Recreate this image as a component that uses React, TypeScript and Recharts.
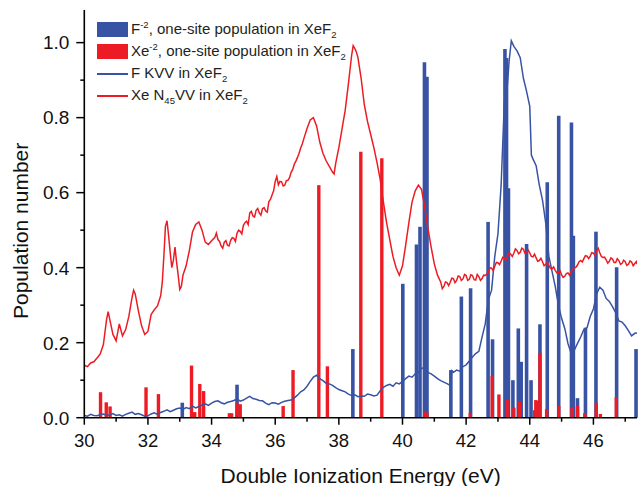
import React from "react";
import {
  ComposedChart,
  Line,
  XAxis,
  YAxis,
  ReferenceLine,
  Legend,
  Label,
} from "recharts";

const BLUE = "#3953a4";
const RED = "#ed1c24";
const FONT = "'Liberation Sans', Arial, sans-serif";

// F^-2 one-site population sticks: [energy eV, population]
const fSticks: [number, number][] = [
  [33.08, 0.04], [34.8, 0.088], [38.44, 0.183], [40.01, 0.357], [40.44, 0.462],
  [40.55, 0.509], [40.69, 0.948], [40.77, 0.909], [41.52, 0.127], [41.85, 0.323],
  [42.14, 0.345], [42.69, 0.522], [42.83, 0.209], [43.22, 0.983], [43.27, 0.959],
  [43.33, 0.612], [43.47, 0.1], [43.64, 0.238], [43.73, 0.149], [43.9, 0.463],
  [44.04, 0.1], [44.16, 0.02], [44.32, 0.249], [44.55, 0.628], [44.91, 0.805],
  [45.31, 0.787], [45.37, 0.485], [45.5, 0.052], [45.75, 0.24], [46.08, 0.496],
  [46.73, 0.401], [47.34, 0.183],
];

// Xe^-2 one-site population sticks
const xeSticks: [number, number][] = [
  [30.51, 0.068], [30.69, 0.041], [30.81, 0.03], [31.94, 0.081], [32.33, 0.063],
  [33.37, 0.139], [33.47, 0.015], [33.63, 0.09], [33.75, 0.071], [34.56, 0.012],
  [34.63, 0.012], [34.8, 0.04], [34.9, 0.036], [36.25, 0.031], [36.56, 0.127],
  [37.37, 0.62], [37.64, 0.137], [38.69, 0.709], [39.35, 0.692], [40.7, 0.015],
  [40.77, 0.013], [42.13, 0.013], [42.82, 0.111], [43.03, 0.062], [43.29, 0.048],
  [43.5, 0.027], [43.68, 0.043], [44.19, 0.047], [44.23, 0.045], [44.32, 0.173],
  [44.53, 0.023], [44.91, 0.031], [45.33, 0.027], [45.5, 0.031], [45.73, 0.012],
  [46.09, 0.04], [46.22, 0.01], [46.72, 0.055],
];

// F KVV spectrum
const fKvv: [number, number][] = [
  [30.0, 0.006], [30.1, 0.004], [30.2, 0.009], [30.3, 0.006], [30.4, 0.005],
  [30.5, 0.008], [30.6, 0.01], [30.7, 0.006], [30.8, 0.007], [30.9, 0.011],
  [31.0, 0.006], [31.1, 0.008], [31.2, 0.004], [31.3, 0.009], [31.4, 0.012],
  [31.5, 0.015], [31.6, 0.009], [31.7, 0.011], [31.8, 0.008], [31.9, 0.004],
  [32.0, 0.005], [32.1, 0.01], [32.2, 0.013], [32.3, 0.009], [32.4, 0.014],
  [32.5, 0.017], [32.6, 0.021], [32.7, 0.016], [32.8, 0.02], [32.9, 0.024],
  [33.0, 0.026], [33.1, 0.022], [33.2, 0.027], [33.3, 0.024], [33.4, 0.031],
  [33.5, 0.026], [33.6, 0.03], [33.7, 0.034], [33.8, 0.037], [33.9, 0.033],
  [34.0, 0.039], [34.1, 0.043], [34.2, 0.045], [34.3, 0.04], [34.4, 0.037],
  [34.5, 0.041], [34.6, 0.043], [34.7, 0.046], [34.8, 0.05], [34.9, 0.044],
  [35.0, 0.047], [35.1, 0.052], [35.2, 0.057], [35.3, 0.051], [35.4, 0.049],
  [35.5, 0.046], [35.6, 0.045], [35.7, 0.039], [35.8, 0.035], [35.9, 0.04],
  [36.0, 0.039], [36.1, 0.036], [36.2, 0.041], [36.3, 0.044], [36.4, 0.046],
  [36.5, 0.047], [36.6, 0.053], [36.7, 0.06], [36.8, 0.069], [36.9, 0.074],
  [37.0, 0.084], [37.1, 0.097], [37.2, 0.108], [37.3, 0.113], [37.4, 0.104],
  [37.5, 0.099], [37.6, 0.092], [37.7, 0.09], [37.8, 0.086], [37.9, 0.08],
  [38.0, 0.075], [38.1, 0.072], [38.2, 0.069], [38.3, 0.063], [38.4, 0.059],
  [38.5, 0.061], [38.6, 0.056], [38.7, 0.058], [38.8, 0.057], [38.9, 0.063],
  [39.0, 0.061], [39.1, 0.058], [39.2, 0.06], [39.3, 0.072], [39.4, 0.081],
  [39.5, 0.086], [39.6, 0.089], [39.7, 0.084], [39.8, 0.093], [39.9, 0.09],
  [40.0, 0.097], [40.1, 0.104], [40.2, 0.111], [40.3, 0.108], [40.4, 0.117],
  [40.5, 0.121], [40.6, 0.131], [40.7, 0.135], [40.8, 0.121], [40.9, 0.117],
  [41.0, 0.111], [41.1, 0.104], [41.2, 0.099], [41.3, 0.095], [41.4, 0.091],
  [41.5, 0.086], [41.55, 0.125], [41.6, 0.121], [41.7, 0.127], [41.8, 0.124],
  [41.9, 0.136], [42.0, 0.141], [42.1, 0.151], [42.2, 0.162], [42.3, 0.171],
  [42.4, 0.177], [42.5, 0.215], [42.6, 0.25], [42.7, 0.315], [42.8, 0.34],
  [42.9, 0.43], [43.0, 0.49], [43.1, 0.62], [43.2, 0.84], [43.3, 0.89],
  [43.35, 0.95], [43.42, 1.005], [43.5, 0.99], [43.6, 0.978], [43.7, 0.96],
  [43.8, 0.905], [43.9, 0.87], [44.0, 0.83], [44.05, 0.7], [44.1, 0.69],
  [44.2, 0.672], [44.3, 0.62], [44.4, 0.58], [44.5, 0.52], [44.6, 0.43],
  [44.7, 0.39], [44.8, 0.35], [44.9, 0.3], [45.0, 0.265], [45.1, 0.238],
  [45.2, 0.198], [45.3, 0.172], [45.35, 0.165], [45.4, 0.18], [45.5, 0.198],
  [45.6, 0.215], [45.7, 0.235], [45.8, 0.24], [45.9, 0.27], [46.0, 0.29],
  [46.1, 0.33], [46.2, 0.348], [46.3, 0.34], [46.4, 0.318], [46.5, 0.31],
  [46.6, 0.296], [46.7, 0.28], [46.8, 0.258], [46.9, 0.255], [47.0, 0.245],
  [47.1, 0.232], [47.2, 0.218], [47.3, 0.225], [47.37, 0.226],
];

// Xe N45VV spectrum
const xeN45vv: [number, number][] = [
  [30.0, 0.14], [30.1, 0.136], [30.2, 0.146], [30.3, 0.149], [30.4, 0.159],
  [30.5, 0.17], [30.6, 0.195], [30.7, 0.262], [30.75, 0.283], [30.8, 0.262],
  [30.9, 0.222], [31.0, 0.205], [31.1, 0.25], [31.2, 0.218], [31.3, 0.235],
  [31.4, 0.27], [31.5, 0.32], [31.55, 0.34], [31.6, 0.33], [31.7, 0.285],
  [31.8, 0.245], [31.9, 0.222], [32.0, 0.23], [32.1, 0.275], [32.2, 0.288],
  [32.3, 0.298], [32.4, 0.325], [32.45, 0.36], [32.5, 0.43], [32.55, 0.51],
  [32.6, 0.525], [32.65, 0.485], [32.7, 0.44], [32.75, 0.4], [32.8, 0.42],
  [32.85, 0.455], [32.9, 0.415], [32.95, 0.38], [33.0, 0.342], [33.05, 0.35],
  [33.1, 0.38], [33.2, 0.405], [33.3, 0.445], [33.4, 0.495], [33.5, 0.515],
  [33.6, 0.522], [33.7, 0.5], [33.8, 0.468], [33.9, 0.462], [34.0, 0.472],
  [34.1, 0.48], [34.15, 0.492], [34.2, 0.475], [34.25, 0.47], [34.3, 0.458],
  [34.35, 0.452], [34.4, 0.468], [34.45, 0.472], [34.5, 0.46], [34.55, 0.458],
  [34.6, 0.473], [34.65, 0.48], [34.7, 0.478], [34.75, 0.47], [34.8, 0.492],
  [34.85, 0.5], [34.9, 0.497], [34.95, 0.49], [35.0, 0.513], [35.05, 0.52],
  [35.1, 0.524], [35.15, 0.515], [35.2, 0.546], [35.25, 0.55], [35.3, 0.538],
  [35.35, 0.535], [35.4, 0.553], [35.45, 0.558], [35.5, 0.546], [35.55, 0.54],
  [35.6, 0.557], [35.65, 0.56], [35.7, 0.551], [35.75, 0.548], [35.8, 0.576],
  [35.85, 0.582], [35.9, 0.594], [35.95, 0.605], [36.0, 0.63], [36.05, 0.643],
  [36.1, 0.621], [36.15, 0.63], [36.2, 0.629], [36.25, 0.618], [36.3, 0.62],
  [36.35, 0.632], [36.4, 0.633], [36.45, 0.64], [36.5, 0.654], [36.55, 0.662],
  [36.6, 0.676], [36.65, 0.684], [36.7, 0.694], [36.75, 0.705], [36.8, 0.719],
  [36.85, 0.73], [36.9, 0.744], [37.0, 0.771], [37.1, 0.794], [37.2, 0.8],
  [37.3, 0.778], [37.4, 0.735], [37.5, 0.705], [37.6, 0.685], [37.7, 0.67],
  [37.8, 0.655], [37.85, 0.65], [37.9, 0.678], [38.0, 0.72], [38.1, 0.77],
  [38.2, 0.82], [38.3, 0.89], [38.4, 0.965], [38.45, 0.992], [38.5, 0.985],
  [38.55, 0.975], [38.6, 0.96], [38.7, 0.905], [38.8, 0.835], [38.9, 0.79],
  [39.0, 0.755], [39.1, 0.72], [39.2, 0.68], [39.3, 0.635], [39.4, 0.575],
  [39.5, 0.52], [39.6, 0.475], [39.7, 0.43], [39.8, 0.4], [39.9, 0.38],
  [40.0, 0.405], [40.1, 0.46], [40.2, 0.52], [40.3, 0.575], [40.4, 0.605],
  [40.5, 0.62], [40.6, 0.608], [40.7, 0.56], [40.8, 0.505], [40.9, 0.455],
  [41.0, 0.41], [41.1, 0.38], [41.2, 0.362], [41.25, 0.344], [41.3, 0.35],
  [41.35, 0.362], [41.4, 0.36], [41.45, 0.352], [41.5, 0.361], [41.55, 0.372],
  [41.6, 0.371], [41.65, 0.36], [41.7, 0.366], [41.75, 0.378], [41.8, 0.376],
  [41.85, 0.366], [41.9, 0.37], [41.95, 0.382], [42.0, 0.379], [42.05, 0.366],
  [42.1, 0.369], [42.15, 0.381], [42.2, 0.379], [42.25, 0.368], [42.3, 0.367],
  [42.35, 0.382], [42.4, 0.376], [42.45, 0.366], [42.5, 0.371], [42.55, 0.38],
  [42.6, 0.379], [42.65, 0.383], [42.7, 0.389], [42.75, 0.4], [42.8, 0.399],
  [42.85, 0.392], [42.9, 0.404], [42.95, 0.414], [43.0, 0.413], [43.05, 0.408],
  [43.1, 0.417], [43.15, 0.428], [43.2, 0.426], [43.25, 0.419], [43.3, 0.429],
  [43.35, 0.44], [43.4, 0.436], [43.45, 0.43], [43.5, 0.439], [43.55, 0.45],
  [43.6, 0.446], [43.65, 0.437], [43.7, 0.441], [43.75, 0.452], [43.8, 0.449],
  [43.85, 0.438], [43.9, 0.439], [43.95, 0.447], [44.0, 0.439], [44.05, 0.43],
  [44.1, 0.429], [44.15, 0.436], [44.2, 0.426], [44.25, 0.417], [44.3, 0.419],
  [44.35, 0.425], [44.4, 0.416], [44.45, 0.405], [44.5, 0.409], [44.55, 0.414],
  [44.6, 0.406], [44.65, 0.398], [44.7, 0.397], [44.75, 0.402], [44.8, 0.393],
  [44.85, 0.386], [44.9, 0.387], [44.95, 0.392], [45.0, 0.381], [45.05, 0.374],
  [45.1, 0.377], [45.15, 0.384], [45.2, 0.386], [45.25, 0.38], [45.3, 0.389],
  [45.35, 0.396], [45.4, 0.399], [45.45, 0.401], [45.5, 0.407], [45.55, 0.416],
  [45.6, 0.419], [45.65, 0.415], [45.7, 0.424], [45.75, 0.432], [45.8, 0.431],
  [45.85, 0.424], [45.9, 0.431], [45.95, 0.44], [46.0, 0.439], [46.05, 0.432],
  [46.1, 0.445], [46.15, 0.452], [46.2, 0.44], [46.25, 0.43], [46.3, 0.427],
  [46.35, 0.428], [46.4, 0.421], [46.45, 0.412], [46.5, 0.417], [46.55, 0.426],
  [46.6, 0.423], [46.65, 0.414], [46.7, 0.414], [46.75, 0.424], [46.8, 0.419],
  [46.85, 0.409], [46.9, 0.411], [46.95, 0.42], [47.0, 0.416], [47.05, 0.406],
  [47.1, 0.409], [47.15, 0.418], [47.2, 0.415], [47.25, 0.405], [47.3, 0.411],
  [47.35, 0.416], [47.37, 0.41],
];

const xTicks = [30, 31, 32, 33, 34, 35, 36, 37, 38, 39, 40, 41, 42, 43, 44, 45, 46, 47];
const yTicks = [0, 0.1, 0.2, 0.3, 0.4, 0.5, 0.6, 0.7, 0.8, 0.9, 1.0];

const toPoints = (arr: [number, number][]) => arr.map(([x, y]) => ({ x, y }));

function XTick(props: any) {
  const { x, y, payload } = props;
  const major = payload.value % 2 === 0;
  return (
    <g>
      <line x1={x} x2={x} y1={y} y2={y + (major ? 7 : 4)} stroke="#000" strokeWidth={1.5} />
      {major && (
        <text x={x} y={y + 29} textAnchor="middle" fontSize={18.5} fontFamily={FONT} fill="#111">
          {payload.value}
        </text>
      )}
    </g>
  );
}

function YTick(props: any) {
  const { x, y, payload } = props;
  const major = Math.round(payload.value * 10) % 2 === 0;
  return (
    <g>
      <line x1={x} x2={x - (major ? 8 : 4)} y1={y} y2={y} stroke="#000" strokeWidth={1.5} />
      {major && (
        <text x={x - 15} y={y} dy="0.36em" textAnchor="end" fontSize={19} fontFamily={FONT} fill="#111">
          {payload.value.toFixed(1)}
        </text>
      )}
    </g>
  );
}

function XTitle(props: any) {
  const { x, y, width } = props.viewBox;
  return (
    <text x={x + width / 2} y={y + 65} textAnchor="middle" fontSize={21} fontFamily={FONT} fill="#111">
      Double Ionization Energy (eV)
    </text>
  );
}

function YTitle(props: any) {
  const { y, height } = props.viewBox;
  const cy = y + height / 2 + 17;
  return (
    <text
      x={28}
      y={cy}
      transform={`rotate(-90, 28, ${cy})`}
      textAnchor="middle"
      fontSize={21}
      fontFamily={FONT}
      fill="#111"
    >
      Population number
    </text>
  );
}

const sup = { fontSize: 9.5, verticalAlign: "6px" } as React.CSSProperties;
const sub = { fontSize: 9.5, verticalAlign: "-4px" } as React.CSSProperties;

function LegendBox() {
  const row: React.CSSProperties = {
    display: "flex",
    alignItems: "center",
    height: 22.3,
    whiteSpace: "nowrap",
  };
  const text: React.CSSProperties = { marginLeft: 3, fontSize: 15, color: "#231f20", fontFamily: FONT };
  return (
    <div>
      <div style={row}>
        <span style={{ width: 31, height: 15, background: BLUE, display: "inline-block" }} />
        <span style={text}>
          F<span style={sup}>-2</span>, one-site population in XeF<span style={sub}>2</span>
        </span>
      </div>
      <div style={row}>
        <span style={{ width: 31, height: 15, background: RED, display: "inline-block" }} />
        <span style={text}>
          Xe<span style={sup}>-2</span>, one-site population in XeF<span style={sub}>2</span>
        </span>
      </div>
      <div style={row}>
        <span style={{ width: 31, height: 1.6, background: BLUE, display: "inline-block" }} />
        <span style={text}>
          F KVV in XeF<span style={sub}>2</span>
        </span>
      </div>
      <div style={row}>
        <span style={{ width: 31, height: 1.6, background: RED, display: "inline-block" }} />
        <span style={text}>
          Xe N<span style={sub}>45</span>VV in XeF<span style={sub}>2</span>
        </span>
      </div>
    </div>
  );
}

export default function App() {
  return (
    <div style={{ position: "absolute", left: 0, top: 0, background: "#fff" }}>
      <ComposedChart width={638} height={486} margin={{ top: 10, right: 1, bottom: 0, left: 0 }}>
        <XAxis
          dataKey="x"
          type="number"
          domain={[30, 47.37]}
          allowDataOverflow
          ticks={xTicks}
          interval={0}
          tickSize={0}
          tickMargin={0}
          tick={<XTick />}
          tickLine={false}
          height={68.3}
          axisLine={{ stroke: "#000", strokeWidth: 1.6 }}
        >
          <Label content={<XTitle />} />
        </XAxis>
        <XAxis
          xAxisId="top"
          orientation="top"
          type="number"
          domain={[30, 47.37]}
          height={0}
          tick={false}
          tickLine={false}
          axisLine={{ stroke: "#000", strokeWidth: 1.6 }}
        />
        <YAxis
          type="number"
          domain={[0, 1.087]}
          allowDataOverflow
          ticks={yTicks}
          interval={0}
          tickSize={0}
          tickMargin={0}
          tick={<YTick />}
          tickLine={false}
          width={84.3}
          axisLine={{ stroke: "#000", strokeWidth: 1.6 }}
        >
          <Label content={<YTitle />} />
        </YAxis>
        <YAxis
          yAxisId="right"
          orientation="right"
          type="number"
          domain={[0, 1.087]}
          width={0}
          tick={false}
          tickLine={false}
          axisLine={{ stroke: "#555", strokeWidth: 1.2 }}
        />
        {fSticks.map(([e, p]) => (
          <ReferenceLine
            key={"f" + e}
            segment={[{ x: e, y: 0 }, { x: e, y: p }]}
            stroke={BLUE}
            strokeWidth={3.6}
          />
        ))}
        {xeSticks.map(([e, p]) => (
          <ReferenceLine
            key={"xe" + e}
            segment={[{ x: e, y: 0 }, { x: e, y: p }]}
            stroke={RED}
            strokeWidth={3.4}
          />
        ))}
        <Line
          data={toPoints(fKvv)}
          dataKey="y"
          type="linear"
          stroke={BLUE}
          strokeWidth={1.5}
          dot={false}
          isAnimationActive={false}
        />
        <Line
          data={toPoints(xeN45vv)}
          dataKey="y"
          type="linear"
          stroke={RED}
          strokeWidth={1.5}
          dot={false}
          isAnimationActive={false}
        />
        <Legend
          layout="vertical"
          align="center"
          verticalAlign="middle"
          content={<LegendBox />}
          wrapperStyle={{ left: 97, top: 18, width: "auto", height: "auto" }}
        />
      </ComposedChart>
    </div>
  );
}
